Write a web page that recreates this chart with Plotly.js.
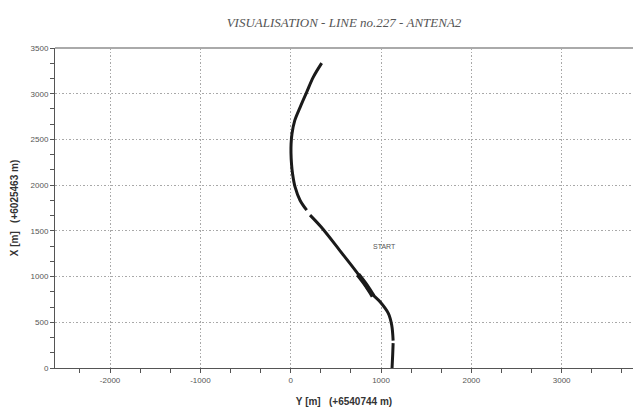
<!DOCTYPE html>
<html>
<head>
<meta charset="utf-8">
<script src="https://cdn.plot.ly/plotly-3.0.1.min.js"></script>
<style>html,body{margin:0;padding:0;background:#fff;}#chart{width:633px;height:408px;}</style>
</head>
<body>
<div id="chart"></div>
<script>
// Track coordinates (Y east offset on horizontal axis, X north offset on vertical axis); null = gap
const yEast  = [343, 250, 177, 105, 45, 14, 4, 3, 9, 20, 48, 103, 177, null, 214, 335, 540, 767, 878, 989, 1081, 1118, 1134, null, 1134, 1129, 1122];
const xNorth = [3334, 3181, 3017, 2854, 2708, 2563, 2450, 2350, 2230, 2127, 1980, 1835, 1726, null, 1672, 1544, 1290, 1000, 834, 725, 598, 470, 300, null, 272, 143, 0];
// thicker overlapping pass near the middle
const yEast2  = [745, 840, 912];
const xNorth2 = [1022, 898, 786];
const xTicks = [-2000, -1000, 0, 1000, 2000, 3000];
const yTicks = [0, 500, 1000, 1500, 2000, 2500, 3000, 3500];
const startLabel = {text: 'START', x: 1040, y: 1333};

const traces = [
  {x: yEast, y: xNorth, mode: 'lines', line: {color: '#1a1a1a', width: 3, shape: 'spline', smoothing: 1}, connectgaps: false, hoverinfo: 'skip'},
  {x: yEast2, y: xNorth2, mode: 'lines', line: {color: '#1a1a1a', width: 5, shape: 'spline'}, hoverinfo: 'skip'}
];

const axisCommon = {
  showgrid: true, gridcolor: '#a8a8a8', griddash: '1.5px,2px', gridwidth: 1,
  zeroline: false, showline: true, linecolor: '#555', linewidth: 1,
  ticks: 'outside', ticklen: 4, tickcolor: '#555', tickwidth: 1,
  tickfont: {family: 'Liberation Sans, Arial', size: 8, color: '#555'},
  fixedrange: true
};

const layout = {
  width: 633, height: 408,
  margin: {l: 55, r: 0, t: 48, b: 40},
  paper_bgcolor: '#fff', plot_bgcolor: '#fff',
  showlegend: false,
  title: {text: 'VISUALISATION - LINE no.227 - ANTENA2', x: 0.5, xref: 'paper', xanchor: 'center', y: 0.955, yref: 'container',
          font: {family: 'Liberation Serif, Times New Roman', size: 13, color: '#555', style: 'italic'}},
  xaxis: Object.assign({}, axisCommon, {
    range: [-2610, 3790], tickvals: xTicks, ticktext: xTicks.map(String),
    minor: {dtick: 1000/3, tick0: 0, ticks: 'outside', ticklen: 4, tickcolor: '#555', showgrid: false},
    title: {text: 'Y [m]   (+6540744 m)', standoff: 14, font: {family: 'Liberation Sans, Arial', size: 10, color: '#333', weight: 'bold'}}
  }),
  yaxis: Object.assign({}, axisCommon, {
    range: [0, 3500], tickvals: yTicks, ticktext: yTicks.map(String),
    minor: {dtick: 500/3, tick0: 0, ticks: 'outside', ticklen: 4, tickcolor: '#555', showgrid: false},
    title: {text: 'X [m]   (+6025463 m)', standoff: 10, font: {family: 'Liberation Sans, Arial', size: 10, color: '#333', weight: 'bold'}}
  }),
  shapes: [
    {type: 'line', xref: 'paper', yref: 'paper', x0: 0, x1: 1, y0: 1, y1: 1, line: {color: '#aaa', width: 2}}
  ],
  annotations: [
    {text: startLabel.text, x: startLabel.x, y: startLabel.y, xref: 'x', yref: 'y', showarrow: false,
     font: {family: 'Liberation Sans, Arial', size: 7, color: '#555'}}
  ]
};

Plotly.newPlot('chart', traces, layout, {displayModeBar: false, staticPlot: true});
</script>
</body>
</html>
